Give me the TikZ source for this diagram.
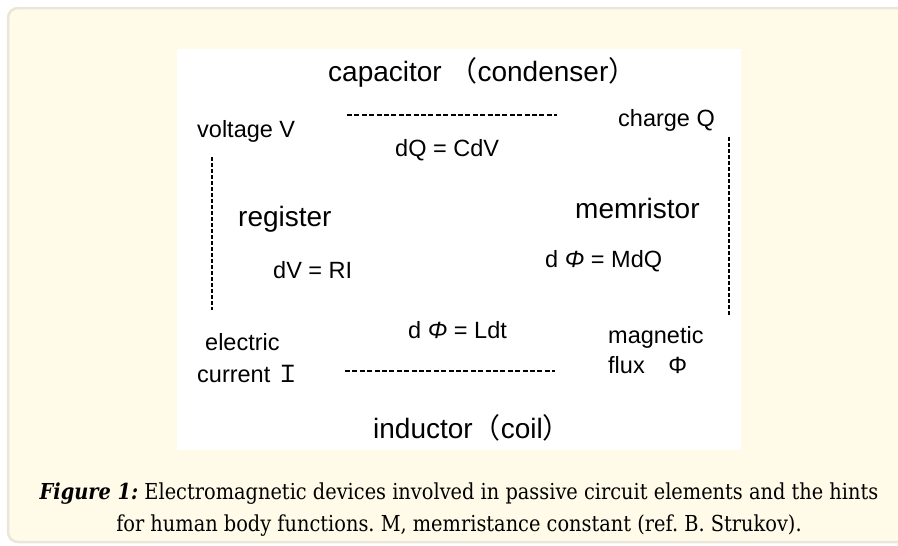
\documentclass[tikz,border=0pt]{standalone}
\usepackage{fontspec}
\setmainfont{Liberation Sans}
\newfontfamily\cjk{Noto Sans CJK JP}
\newfontfamily\capfont[FakeStretch=0.88]{DejaVu Serif}
\definecolor{panelbg}{RGB}{255,251,232}
\definecolor{panelrule}{RGB}{234,230,218}
\frenchspacing
\tikzset{
  device/.style={font=\fontsize{28}{30}\selectfont, inner sep=0pt, anchor=base west},
  qty/.style={font=\fontsize{23.5}{26}\selectfont, inner sep=0pt, anchor=base west},
  hlink/.style={line width=1.3pt, dash pattern=on 5pt off 2.4pt},
  vlink/.style={line width=1.3pt, dash pattern=on 4pt off 2pt},
}
\begin{document}
\begin{tikzpicture}[x=1pt, y=-1pt]
    \useasboundingbox (0,0) rectangle (898,546);
    \clip (0,0) rectangle (898,546);
    % panel and figure area
    \draw[panelrule, line width=2.5pt, fill=panelbg, rounded corners=10pt] (8,8) rectangle (1000,542);
    \fill[white] (177,49) rectangle (741,450);
    \begin{scope}[every node/.style={device}]
    \node (cap) at (328,81) {capacitor {\cjk （}condenser{\cjk ）}};
    \node (reg) at (238,226) {register};
    \node (memr) at (575,218) {memristor};
    \node (ind) at (373,438) {inductor{\cjk （}coil{\cjk ）}};
    \end{scope}
    \begin{scope}[every node/.style={qty}]
    \node (volt) at (197,137) {voltage V};
    \node (charge) at (618,126) {charge Q};
    \node (elec) at (205,350) {electric};
    \node (curr) at (197,382) {current {\cjk Ｉ}};
    \node (magn) at (608,343) {magnetic};
    \node (flux) at (608,373) {flux{\cjk 　}Φ};
    \node (eqC) at (395,156) {dQ = CdV};
    \node (eqR) at (273,278) {dV = RI};
    \node (eqM) at (545,267) {d {\itshape Φ} = MdQ};
    \node (eqL) at (408,338) {d {\itshape Φ} = Ldt};
    \end{scope}
    % dashed links between the quantities
    \coordinate (vq1) at (347,115);
    \coordinate (vq2) at (557,115);
    \coordinate (vi1) at (212,157);
    \coordinate (vi2) at (212,310);
    \coordinate (qf1) at (729,137);
    \coordinate (qf2) at (729,315);
    \coordinate (if1) at (345,371);
    \coordinate (if2) at (555,371);
    \draw[hlink] (vq1) -- (vq2);
    \draw[hlink] (if1) -- (if2);
    \draw[vlink] (vi1) -- (vi2);
    \draw[vlink] (qf1) -- (qf2);
    % caption
    \begin{scope}[every node/.style={font=\capfont\fontsize{22}{26}\selectfont, inner sep=0pt, anchor=base}]
    \node (cap1) at (459,499) {\textbf{\textit{Figure 1:}} Electromagnetic devices involved in passive circuit elements and the hints};
    \node (cap2) at (459,531) {for human body functions. M, memristance constant (ref. B. Strukov).};
    \end{scope}
\end{tikzpicture}
\end{document}
